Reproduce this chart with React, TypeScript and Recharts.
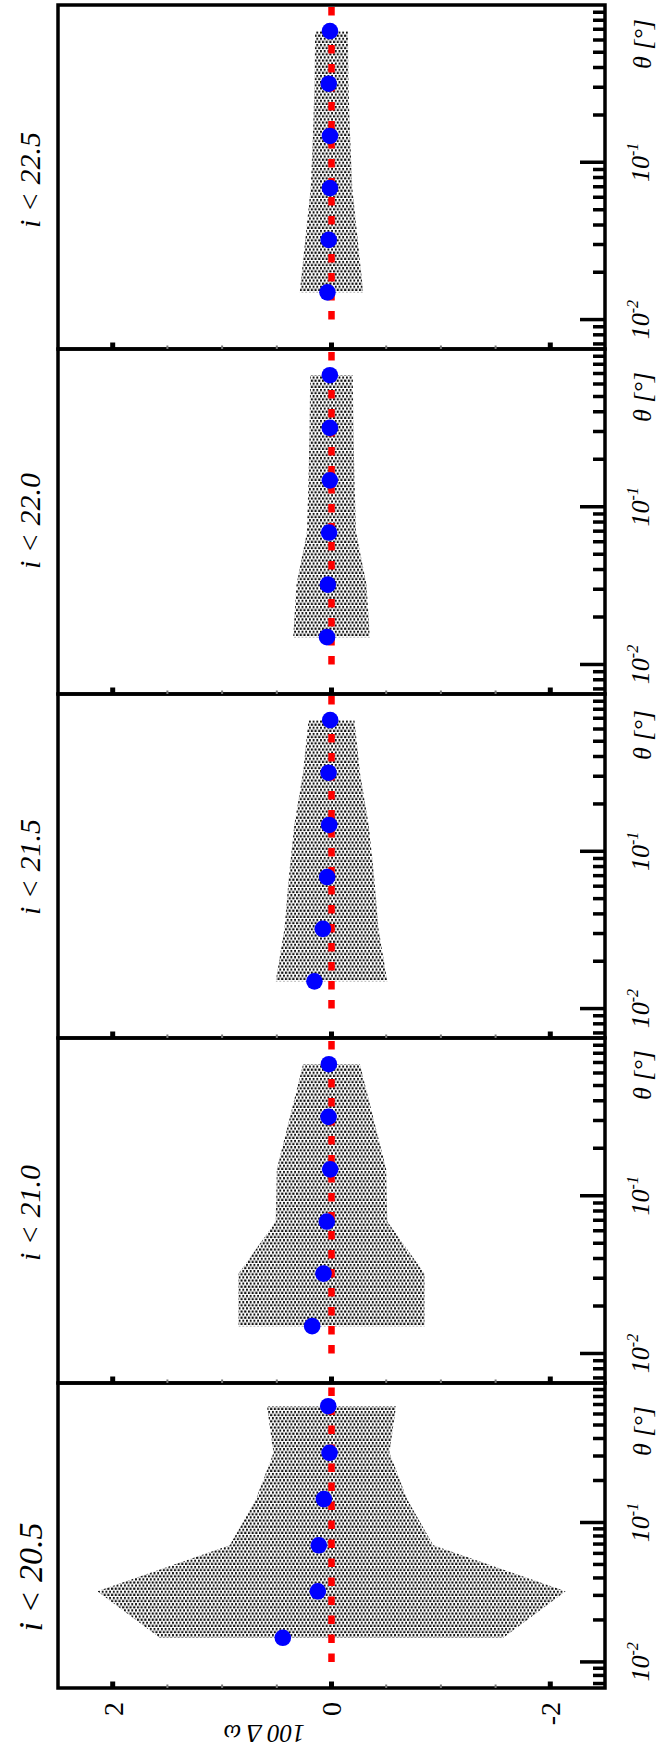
import React from "react";
import { ComposedChart, XAxis, YAxis, Area, Line, Scatter, ReferenceArea } from "recharts";

// angular bins (deg), same in every panel
const thetaPoints = [0.0149, 0.0321, 0.0686, 0.147, 0.316, 0.682];

const magCuts = ["20.5", "21.0", "21.5", "22.0", "22.5"];

// 100 * delta omega, one list per magnitude cut
const dw205 = [0.445, 0.125, 0.116, 0.07, 0.018, 0.03];
const dw210 = [0.177, 0.073, 0.043, 0.012, 0.027, 0.024];
const dw215 = [0.156, 0.079, 0.04, 0.021, 0.027, 0.012];
const dw220 = [0.041, 0.033, 0.022, 0.015, 0.015, 0.015];
const dw225 = [0.037, 0.025, 0.014, 0.014, 0.025, 0.014];

// half width of the shaded error band
const err205 = [1.57, 2.14, 0.93, 0.69, 0.53, 0.59];
const err210 = [0.85, 0.85, 0.51, 0.5, 0.38, 0.26];
const err215 = [0.51, 0.43, 0.39, 0.34, 0.26, 0.21];
const err220 = [0.35, 0.32, 0.225, 0.21, 0.2, 0.195];
const err225 = [0.29, 0.24, 0.19, 0.17, 0.155, 0.15];

const panelDw = [dw205, dw210, dw215, dw220, dw225];
const panelErr = [err205, err210, err215, err220, err225];

const thetaDomain = [0.0065, 1];
const dwDomain = [-2.5, 2.5];
const thetaTicks = [
  0.007, 0.008, 0.009, 0.01, 0.02, 0.03, 0.04, 0.05, 0.06, 0.07, 0.08, 0.09,
  0.1, 0.2, 0.3, 0.4, 0.5, 0.6, 0.7, 0.8, 0.9,
];
const thetaMajor = [0.01, 0.1];
const thetaExp = ["-2", "-1"];
const dwTicks = [-2, -1.5, -1, -0.5, 0, 0.5, 1, 1.5, 2];
const dwMajor = [-2, 0, 2];
const zeroLine = [
  { theta: 0.01, dw: 0 },
  { theta: 1, dw: 0 },
];

// figure is drawn landscape, then turned 90deg counter-clockwise
const FIG_W = 1751;
const FIG_H = 660;
const PLOT_TOP = 58;
const PLOT_BOTTOM = 605;
const X_AXIS_H = 30;
const PAD = 4;
const panelEdges = [63, 368, 713, 1057, 1402, 1746];
const titleCenters = [174, 538, 884, 1230, 1571];
const thetaLabelCenters = [320, 676, 1016, 1354, 1707];
const SERIF = "'Times New Roman', 'Liberation Serif', serif";

function ThetaTick(props: any) {
  const { x, y, payload } = props;
  const k = thetaMajor.indexOf(payload.value);
  const major = k >= 0;
  return (
    <g>
      <line x1={x} x2={x} y1={y} y2={y - (major ? 25 : 12)} stroke="#000" strokeWidth={3.5} />
      {major && (
        <text x={x} y={y + 44} textAnchor="middle" fontFamily={SERIF} fontStyle="italic" fontSize={26} fill="#000">
          <tspan>10</tspan>
          <tspan dy={-11} fontSize={16}>{thetaExp[k]}</tspan>
        </text>
      )}
    </g>
  );
}

function DwTick(props: any) {
  const { x, y, payload, showLabel } = props;
  const major = dwMajor.includes(payload.value);
  return (
    <g>
      <line
        x1={x}
        x2={x + (major ? 6.5 : 3.5)}
        y1={y}
        y2={y}
        stroke={major ? "#000" : "#777"}
        strokeWidth={major ? 5 : 2}
      />
      {showLabel && major && (
        <text x={x - 14} y={y} dy="0.35em" textAnchor="end" fontFamily={SERIF} fontSize={28} fill="#000">
          {String(payload.value)}
        </text>
      )}
    </g>
  );
}

function Panel({ idx }: { idx: number }) {
  const left = panelEdges[idx];
  const right = panelEdges[idx + 1];
  const first = idx === 0;
  const chartLeft = first ? 0 : left - PAD;
  const width = right + PAD - chartLeft;
  const yAxisW = left - chartLeft;
  const dw = panelDw[idx];
  const err = panelErr[idx];
  const points = thetaPoints.map((t, i) => ({ theta: t, dw: dw[i] }));
  const band = thetaPoints.map((t, i) => ({ theta: t, band: [-err[i], err[i]] }));
  const pid = `dots${idx}`;

  return (
    <div style={{ position: "absolute", left: chartLeft, top: 0 }}>
      <ComposedChart
        width={width}
        height={FIG_H}
        margin={{ top: PLOT_TOP, bottom: FIG_H - PLOT_BOTTOM - X_AXIS_H, left: 0, right: PAD }}
      >
        <defs>
          <pattern id={pid} patternUnits="userSpaceOnUse" width={6.2} height={3.7}>
            <rect x={0} y={0} width={2.2} height={2.2} fill="#111" />
            <rect x={3.1} y={1.85} width={2.2} height={2.2} fill="#111" />
          </pattern>
        </defs>
        <XAxis
          dataKey="theta"
          type="number"
          scale="log"
          domain={thetaDomain}
          allowDataOverflow
          ticks={thetaTicks}
          interval={0}
          height={X_AXIS_H}
          axisLine={false}
          tickLine={false}
          tickSize={0}
          tickMargin={0}
          tick={(p: any) => <ThetaTick {...p} />}
        />
        <YAxis
          type="number"
          domain={dwDomain}
          allowDataOverflow
          ticks={dwTicks}
          interval={0}
          width={yAxisW}
          axisLine={false}
          tickLine={false}
          tickSize={0}
          tickMargin={0}
          tick={(p: any) => <DwTick {...p} showLabel={first} />}
        />
        <Area
          data={band}
          dataKey="band"
          type="linear"
          stroke="none"
          fill={`url(#${pid})`}
          fillOpacity={1}
          isAnimationActive={false}
        />
        <Line
          data={zeroLine}
          dataKey="dw"
          type="linear"
          stroke="#ff0000"
          strokeWidth={6.5}
          strokeDasharray="8.5 10.5"
          dot={false}
          activeDot={false}
          isAnimationActive={false}
        />
        <Scatter
          data={points}
          dataKey="dw"
          isAnimationActive={false}
          shape={(p: any) => <circle cx={p.cx} cy={p.cy} r={8.3} fill="#0000ff" />}
        />
        <ReferenceArea
          x1={thetaDomain[0]}
          x2={thetaDomain[1]}
          y1={dwDomain[0]}
          y2={dwDomain[1]}
          ifOverflow="visible"
          fill="none"
          fillOpacity={0}
          stroke="#000"
          strokeWidth={3.5}
        />
      </ComposedChart>
    </div>
  );
}

export default function App() {
  return (
    <div
      style={{
        position: "absolute",
        left: 0,
        top: 0,
        width: 660,
        height: 1751,
        overflow: "hidden",
        background: "#fff",
      }}
    >
      <div
        style={{
          position: "absolute",
          left: 0,
          top: 0,
          width: FIG_W,
          height: FIG_H,
          transformOrigin: "0 0",
          transform: `translateY(${FIG_W}px) rotate(-90deg)`,
        }}
      >
        {magCuts.map((m, i) => (
          <Panel key={m} idx={i} />
        ))}
        <svg
          width={FIG_W}
          height={FIG_H}
          style={{ position: "absolute", left: 0, top: 0, pointerEvents: "none" }}
        >
          {magCuts.map((m, i) => (
            <text
              key={m}
              x={titleCenters[i]}
              y={i === 0 ? 42 : 40}
              textAnchor="middle"
              fontFamily={SERIF}
              fontStyle="italic"
              fontSize={i === 0 ? 34 : 30}
              fill="#000"
            >
              {`i < ${m}`}
            </text>
          ))}
          {thetaLabelCenters.map((c, i) => (
            <text
              key={i}
              x={c}
              y={651}
              textAnchor="middle"
              fontFamily={SERIF}
              fontStyle="italic"
              fontSize={26}
              fill="#000"
            >
              θ [°]
            </text>
          ))}
          <text
            x={26}
            y={264}
            transform="rotate(-90 26 264)"
            textAnchor="middle"
            fontFamily={SERIF}
            fontStyle="italic"
            fontSize={25}
            fill="#000"
          >
            100 Δ ω
          </text>
        </svg>
      </div>
    </div>
  );
}
